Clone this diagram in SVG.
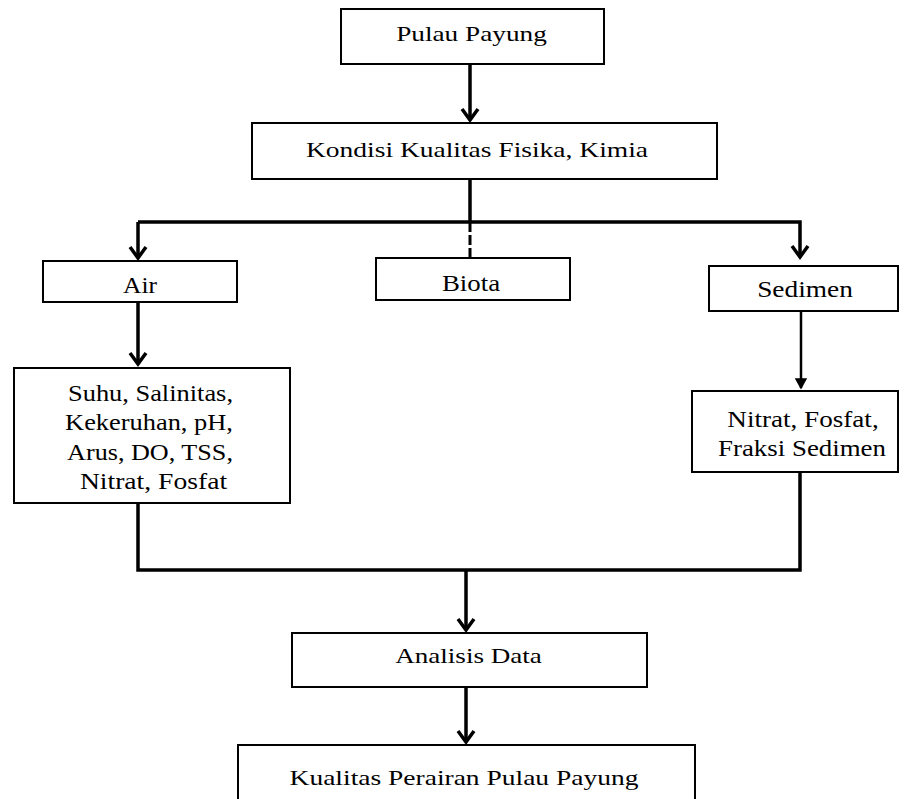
<svg xmlns="http://www.w3.org/2000/svg" width="904" height="799" viewBox="0 0 904 799">
<defs>
<style>
.box{fill:#fff;stroke:#000;stroke-width:2}
text{font-family:"Liberation Serif",Tinos,"Times New Roman","Noto Serif","DejaVu Serif",serif;fill:#000;text-anchor:middle}
.s22{font-size:22px}
.s24{font-size:24px}
.c{fill:none;stroke:#000;stroke-width:3.5;stroke-linejoin:miter}
.thin{fill:none;stroke:#000;stroke-width:2.5}
</style>
<marker id="ah" markerUnits="userSpaceOnUse" markerWidth="20" markerHeight="20" viewBox="-14 -10 16 20" refX="0" refY="0" orient="auto">
<path d="M-11,-8 L0,0 L-11,8" fill="none" stroke="#000" stroke-width="3.5"/>
</marker>
<marker id="ahs" markerUnits="userSpaceOnUse" markerWidth="14" markerHeight="14" viewBox="-11 -7 12 14" refX="0" refY="0" orient="auto">
<path d="M-9,-5 L0,0 L-9,5 Z" fill="#000" stroke="#000" stroke-width="1.5"/>
</marker>
</defs>
<rect width="904" height="799" fill="#fff"/>
<g id="connectors">
<line class="c" x1="470" y1="64" x2="470" y2="120" marker-end="url(#ah)"/>
<line class="c" x1="470" y1="179" x2="470" y2="222"/>
<polyline class="c" points="138,222 800,222 800,257" marker-end="url(#ah)"/>
<line class="c" x1="138" y1="222" x2="138" y2="258" marker-end="url(#ah)"/>
<line x1="470" y1="222" x2="470" y2="258" stroke="#000" stroke-width="3" stroke-dasharray="10 3"/>
<line class="c" x1="138" y1="302" x2="138" y2="364" marker-end="url(#ah)"/>
<line class="thin" x1="801" y1="311" x2="801" y2="388" marker-end="url(#ahs)"/>
<polyline class="c" points="138,503 138,570 800,570 800,472"/>
<line class="c" x1="466" y1="570" x2="466" y2="630" marker-end="url(#ah)"/>
<line class="c" x1="466" y1="687" x2="466" y2="742" marker-end="url(#ah)"/>
</g>
<g id="pulau">
<rect class="box" x="341" y="9" width="263" height="55"/>
<text class="s22" transform="translate(471.5,41) scale(1.24,1)">Pulau Payung</text>
</g>
<g id="kondisi">
<rect class="box" x="252" y="123" width="465" height="56"/>
<text class="s22" transform="translate(477,157) scale(1.25,1)">Kondisi Kualitas Fisika, Kimia</text>
</g>
<g id="air">
<rect class="box" x="43" y="261" width="194" height="41"/>
<text class="s24" transform="translate(140,293) scale(1.06,1)">Air</text>
</g>
<g id="biota">
<rect class="box" x="376" y="258" width="194" height="42"/>
<text class="s24" transform="translate(471,291) scale(1.12,1)">Biota</text>
</g>
<g id="sedimen">
<rect class="box" x="709" y="266" width="189" height="45"/>
<text class="s24" transform="translate(805,297) scale(1.14,1)">Sedimen</text>
</g>
<g id="parameter-air">
<rect class="box" x="14" y="368" width="276" height="135"/>
<text class="s24" transform="translate(150.5,401) scale(1.1,1)">Suhu, Salinitas,</text>
<text class="s24" transform="translate(149,430) scale(1.1,1)">Kekeruhan, pH,</text>
<text class="s24" transform="translate(150,460) scale(1.09,1)">Arus, DO, TSS,</text>
<text class="s24" transform="translate(153.5,489) scale(1.15,1)">Nitrat, Fosfat</text>
</g>
<g id="parameter-sedimen">
<rect class="box" x="692" y="391" width="206" height="81"/>
<text class="s24" transform="translate(803,427) scale(1.13,1)">Nitrat, Fosfat,</text>
<text class="s24" transform="translate(802,456) scale(1.12,1)">Fraksi Sedimen</text>
</g>
<g id="analisis">
<rect class="box" x="292" y="633" width="355" height="54"/>
<text class="s22" transform="translate(468.5,663) scale(1.23,1)">Analisis Data</text>
</g>
<g id="kualitas">
<rect class="box" x="238" y="745" width="457" height="70"/>
<text class="s22" transform="translate(464,785) scale(1.25,1)">Kualitas Perairan Pulau Payung</text>
</g>
</svg>
